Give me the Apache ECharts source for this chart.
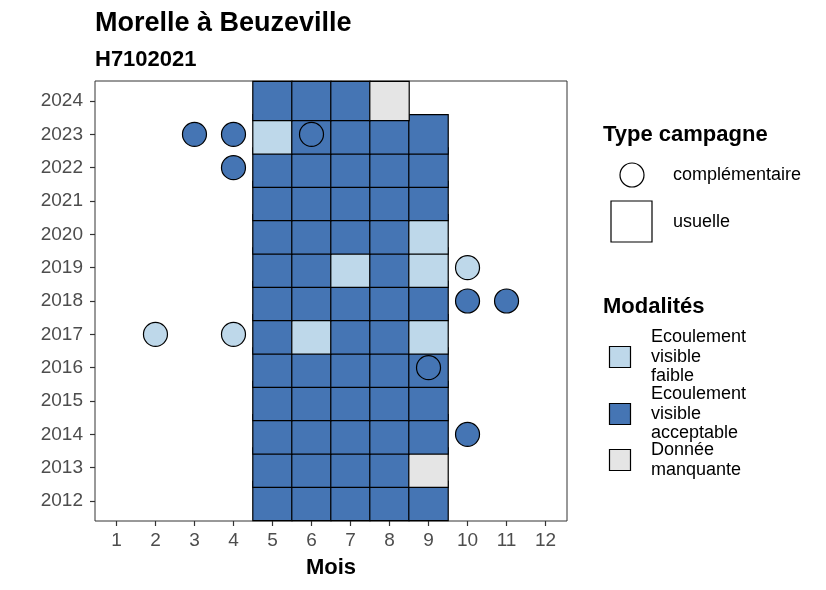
<!DOCTYPE html>
<html>
<head>
<meta charset="utf-8">
<script src="https://cdn.jsdelivr.net/npm/echarts@6/dist/echarts.min.js"></script>
<style>
  html, body { margin: 0; padding: 0; background: #fff; }
  #chart { width: 826px; height: 590px; }
</style>
</head>
<body>
<div id="chart"></div>
<script>
// months shown on x axis, years on y axis
var mois = [1, 2, 3, 4, 5, 6, 7, 8, 9, 10, 11, 12];
var annees = [2012, 2013, 2014, 2015, 2016, 2017, 2018, 2019, 2020, 2021, 2022, 2023, 2024];

// modalites: 0 = faible, 1 = acceptable, 2 = manquante
var modalites = ['Ecoulement\nvisible\nfaible', 'Ecoulement\nvisible\nacceptable', 'Donnée\nmanquante'];

// campagnes usuelles, months 5..9, one row per year (null = no campaign)
var usuelleMois = [5, 6, 7, 8, 9];
var usuelleModalite = [
    [1, 1, 1, 1, 1],    // 2012
    [1, 1, 1, 1, 2],    // 2013
    [1, 1, 1, 1, 1],    // 2014
    [1, 1, 1, 1, 1],    // 2015
    [1, 1, 1, 1, 1],    // 2016
    [1, 0, 1, 1, 0],    // 2017
    [1, 1, 1, 1, 1],    // 2018
    [1, 1, 0, 1, 0],    // 2019
    [1, 1, 1, 1, 0],    // 2020
    [1, 1, 1, 1, 1],    // 2021
    [1, 1, 1, 1, 1],    // 2022
    [0, 1, 1, 1, 1],    // 2023
    [1, 1, 1, 2, null]  // 2024
];

// campagnes complementaires
var complMois = [9, 10, 2, 4, 10, 11, 10, 4, 3, 4, 6];
var complAnnee = [2016, 2014, 2017, 2017, 2018, 2018, 2019, 2022, 2023, 2023, 2023];
var complModalite = [1, 1, 0, 0, 1, 1, 0, 1, 1, 1, 1];

var couleurs = ['#bed8ea', '#4575b4', '#e5e5e5'];
var txtFont = '"Liberation Sans", Arial, sans-serif';

function buildSquares() {
    var data = [];
    for (var i = 0; i < annees.length; i++) {
        for (var j = 0; j < usuelleMois.length; j++) {
            var m = usuelleModalite[i][j];
            if (m === null) continue;
            data.push({
                value: [usuelleMois[j], annees[i]],
                itemStyle: {color: couleurs[m]}
            });
        }
    }
    return data;
}

function buildCircles() {
    var data = [];
    for (var i = 0; i < complMois.length; i++) {
        data.push({
            value: [complMois[i], complAnnee[i]],
            itemStyle: {color: couleurs[complModalite[i]]}
        });
    }
    return data;
}

function legendGraphics() {
    var g = [];
    var tx = 603;
    g.push({type: 'text', left: tx, top: 124, style: {text: 'Type campagne', font: 'bold 22px ' + txtFont, fill: '#000'}});
    g.push({type: 'circle', shape: {cx: 632, cy: 175, r: 12}, style: {fill: '#fff', stroke: '#000', lineWidth: 1.2}});
    g.push({type: 'text', x: 673, y: 175, style: {text: 'complémentaire', font: '18px ' + txtFont, fill: '#000', verticalAlign: 'middle'}});
    g.push({type: 'rect', shape: {x: 611, y: 201, width: 41, height: 41}, style: {fill: '#fff', stroke: '#000', lineWidth: 1.2}});
    g.push({type: 'text', x: 673, y: 222, style: {text: 'usuelle', font: '18px ' + txtFont, fill: '#000', verticalAlign: 'middle'}});

    g.push({type: 'text', left: tx, top: 296, style: {text: 'Modalités', font: 'bold 22px ' + txtFont, fill: '#000'}});
    var keyY = [357, 414, 460];
    for (var i = 0; i < modalites.length; i++) {
        g.push({type: 'rect', shape: {x: 609.5, y: keyY[i] - 10.5, width: 21, height: 21},
            style: {fill: couleurs[i], stroke: '#000', lineWidth: 1.2}});
        g.push({type: 'text', x: 651, y: keyY[i], style: {text: modalites[i], font: '18px ' + txtFont,
            fill: '#000', verticalAlign: 'middle', lineHeight: 19.5}});
    }
    return g;
}

var dom = document.getElementById('chart');
var myChart = echarts.init(dom, null, {renderer: 'canvas'});
var option = null;

option = {
    animation: false,
    backgroundColor: '#fff',
    textStyle: {fontFamily: txtFont},
    title: [
        {text: 'Morelle à Beuzeville', left: 90, top: 5,
            textStyle: {fontSize: 27, fontWeight: 'bold', color: '#000', fontFamily: txtFont}},
        {text: 'H7102021', left: 90, top: 44,
            textStyle: {fontSize: 22, fontWeight: 'bold', color: '#000', fontFamily: txtFont}}
    ],
    grid: {
        left: 95, top: 81, width: 472, height: 440,
        show: true, borderColor: '#333', borderWidth: 1, backgroundColor: '#fff'
    },
    xAxis: {
        type: 'value',
        min: 0.45,
        max: 12.55,
        name: 'Mois',
        nameLocation: 'middle',
        nameGap: 36,
        nameTextStyle: {fontSize: 22, fontWeight: 'bold', color: '#000', fontFamily: txtFont},
        axisLine: {show: false},
        splitLine: {show: false},
        axisTick: {show: true, length: 5, lineStyle: {color: '#333', width: 1.2}, customValues: mois},
        axisLabel: {fontSize: 19, color: '#4d4d4d', margin: 10, customValues: mois, fontFamily: txtFont}
    },
    yAxis: {
        type: 'value',
        min: 2011.4,
        max: 2024.6,
        axisLine: {show: false},
        splitLine: {show: false},
        axisTick: {show: true, length: 5, lineStyle: {color: '#333', width: 1.2}, customValues: annees},
        axisLabel: {
            fontSize: 19, color: '#4d4d4d', margin: 12, customValues: annees, fontFamily: txtFont,
            formatter: function (v) { return String(Math.round(v)); }
        }
    },
    series: [
        {
            name: 'usuelle',
            type: 'scatter',
            symbol: 'rect',
            symbolSize: 39.4,
            itemStyle: {borderColor: '#000', borderWidth: 1.2, opacity: 1},
            emphasis: {disabled: true},
            data: buildSquares()
        },
        {
            name: 'complémentaire',
            type: 'scatter',
            symbol: 'circle',
            symbolSize: 24,
            itemStyle: {borderColor: '#000', borderWidth: 1.2, opacity: 1},
            emphasis: {disabled: true},
            data: buildCircles()
        }
    ],
    graphic: legendGraphics()
};

if (option && typeof option === "object") {
    myChart.setOption(option, true);
}
</script>
</body>
</html>
